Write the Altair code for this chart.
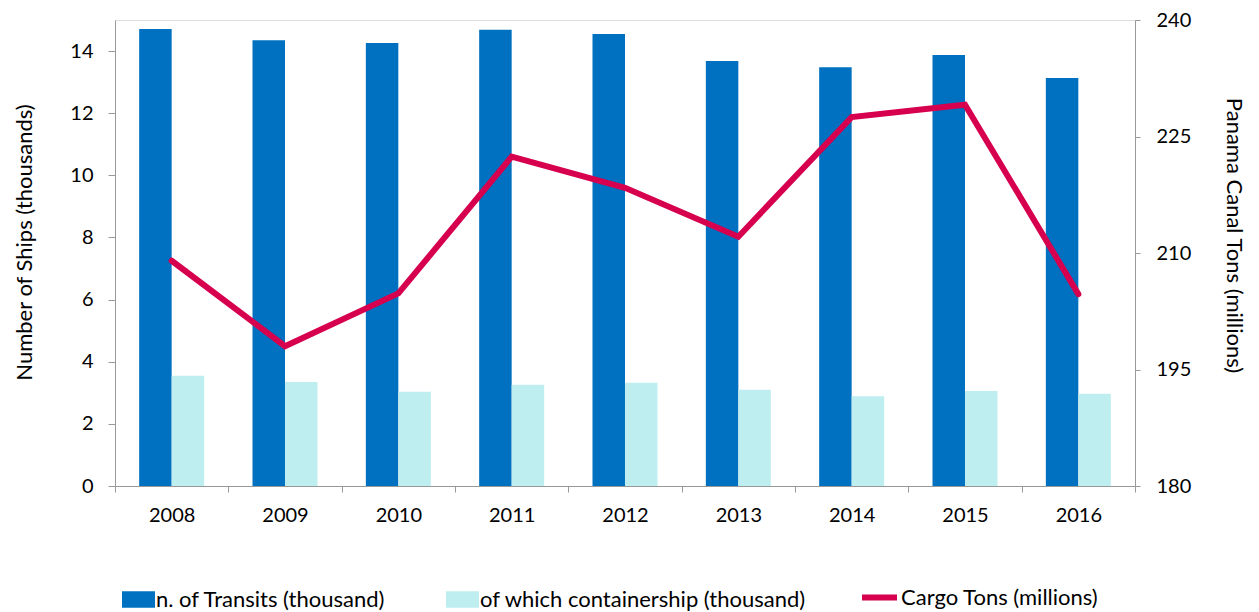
import altair as alt
import pandas as pd

years = ["2008", "2009", "2010", "2011", "2012", "2013", "2014", "2015", "2016"]
transits = [14.71, 14.35, 14.26, 14.69, 14.55, 13.68, 13.48, 13.87, 13.13]
containership = [3.55, 3.35, 3.03, 3.26, 3.32, 3.10, 2.89, 3.06, 2.97]
cargo_tons = [209.0, 198.0, 204.8, 222.4, 218.4, 212.1, 227.5, 229.1, 204.7]

series_names = ["n. of Transits (thousand)", "of which containership (thousand)",
                "Cargo Tons (millions)"]

left_ticks = [0, 2, 4, 6, 8, 10, 12, 14]
right_ticks = [180, 195, 210, 225, 240]

df = pd.DataFrame({"year": years, "transits": transits,
                   "containership": containership, "cargo": cargo_tons})

FONT = "Lato"
DARK = "#0070C0"
LIGHT = "#BFEEF1"
RED = "#D6004F"
AXIS_GRAY = "#999999"
TICK_FS = 20
TITLE_FS = 22
LEG_FS = 22

xscale = alt.Scale(paddingInner=0, paddingOuter=0)
xenc = alt.X("year:N", scale=xscale, sort=years,
             axis=alt.Axis(title=None, labelAngle=0, tickBand="extent",
                           tickSize=6, labelPadding=13, labelFontSize=TICK_FS,
                           labelFont=FONT, labelColor="#000000",
                           domainColor=AXIS_GRAY, tickColor=AXIS_GRAY))

rect_path = "M-1,-0.5H1V0.5H-1Z"

def bar_legend(x):
    return alt.Legend(orient="none", legendX=x, legendY=563, title=None,
                      symbolType=rect_path, symbolSize=1089, symbolStrokeWidth=0,
                      labelFontSize=LEG_FS, labelFont=FONT, labelColor="#000000",
                      labelOffset=1, labelLimit=500, padding=0)

base = alt.Chart(df)

bar1 = base.transform_calculate(series=f"'{series_names[0]}'").mark_bar(
    width=32.5, xOffset=-16.25).encode(
    x=xenc,
    y=alt.Y("transits:Q", scale=alt.Scale(domain=[0, 15], nice=False),
            axis=alt.Axis(title="Number of  Ships (thousands)", values=left_ticks,
                          grid=False, tickSize=7, labelPadding=15,
                          labelFontSize=TICK_FS, labelFont=FONT, labelColor="#000000",
                          titleFontSize=TITLE_FS, titleFont=FONT, titleFontWeight="normal",
                          titleColor="#000000", titlePadding=33,
                          titleY=222,
                          domainColor=AXIS_GRAY, tickColor=AXIS_GRAY)),
    color=alt.Color("series:N", scale=alt.Scale(domain=[series_names[0]], range=[DARK]),
                    legend=bar_legend(7)),
)

bar2 = base.transform_calculate(series=f"'{series_names[1]}'").mark_bar(
    width=32.5, xOffset=16.25).encode(
    x=xenc,
    y=alt.Y("containership:Q", scale=alt.Scale(domain=[0, 15], nice=False), axis=None),
    color=alt.Color("series:N", scale=alt.Scale(domain=[series_names[1]], range=[LIGHT]),
                    legend=bar_legend(331)),
)

line = base.transform_calculate(series=f"'{series_names[2]}'").mark_line(
    strokeWidth=6, strokeCap="round", strokeJoin="miter").encode(
    x=xenc,
    y=alt.Y("cargo:Q", scale=alt.Scale(domain=[180, 240], nice=False, zero=False),
            axis=alt.Axis(orient="right", title="Panama Canal Tons (millions)",
                          values=right_ticks, grid=False, tickSize=5, labelPadding=16,
                          labelFontSize=TICK_FS, labelFont=FONT, labelColor="#000000",
                          titleFontSize=TITLE_FS, titleFont=FONT, titleFontWeight="normal",
                          titleColor="#000000", titlePadding=31, titleY=215,
                          domainColor=AXIS_GRAY, tickColor=AXIS_GRAY)),
    color=alt.Color("series:N", scale=alt.Scale(domain=[series_names[2]], range=[RED]),
                    legend=alt.Legend(orient="none", legendX=744, legendY=557, title=None,
                                      symbolType="stroke", symbolSize=1225,
                                      symbolStrokeWidth=6, symbolStrokeColor=RED,
                                      labelFontSize=LEG_FS, labelFont=FONT,
                                      labelColor="#000000", labelOffset=1,
                                      labelLimit=500, padding=0)),
)

chart = alt.layer(bar1, bar2, line).resolve_scale(
    y="independent", color="independent"
).properties(
    width=1020, height=466,
    autosize=alt.AutoSizeParams(type="none"),
    padding={"left": 107, "top": 12, "right": 116, "bottom": 125},
).configure_view(stroke=None).configure(background="white")

chart.save("out.html", embed_options={"renderer": "svg", "actions": False})
